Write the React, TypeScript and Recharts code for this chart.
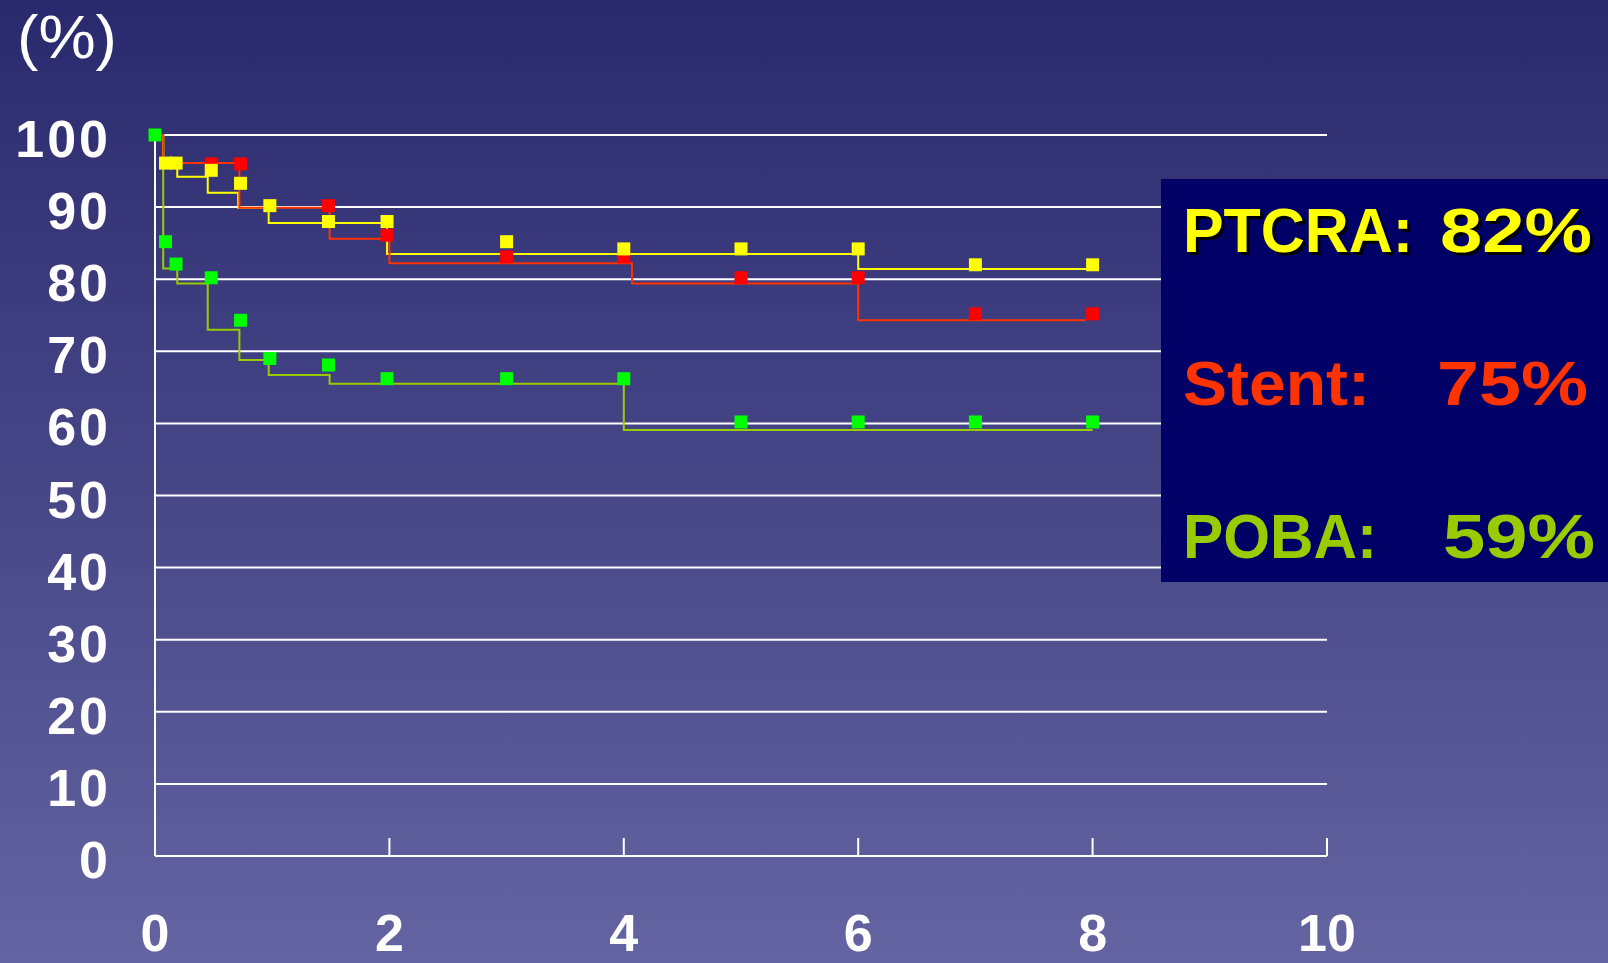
import React from 'react';
import { ComposedChart, Line, Scatter, XAxis, YAxis, CartesianGrid, ReferenceLine } from 'recharts';

// Kaplan-Meier style step curves (time in years, % event-free)
const ptcraCurve = [
  { t: 0, v: 100 }, { t: 0.07, v: 96.1 }, { t: 0.19, v: 94.2 }, { t: 0.45, v: 92.0 },
  { t: 0.71, v: 89.9 }, { t: 0.97, v: 87.8 }, { t: 1.98, v: 83.5 }, { t: 6.0, v: 81.4 },
  { t: 7.95, v: 81.4 },
];
const stentCurve = [
  { t: 0, v: 100 }, { t: 0.07, v: 96.1 }, { t: 0.72, v: 89.9 }, { t: 1.49, v: 85.6 },
  { t: 2.0, v: 82.2 }, { t: 4.07, v: 79.4 }, { t: 6.0, v: 74.3 }, { t: 7.94, v: 74.3 },
];
const pobaCurve = [
  { t: 0, v: 100 }, { t: 0.07, v: 81.5 }, { t: 0.19, v: 79.4 }, { t: 0.45, v: 73.0 },
  { t: 0.72, v: 68.8 }, { t: 0.97, v: 66.7 }, { t: 1.49, v: 65.5 }, { t: 4.0, v: 59.1 },
  { t: 8.0, v: 59.1 },
];

// square markers
const ptcraPoints = [
  { t: 0.09, v: 96.1 }, { t: 0.18, v: 96.1 }, { t: 0.48, v: 95.1 }, { t: 0.73, v: 93.3 },
  { t: 0.98, v: 90.2 }, { t: 1.48, v: 88.0 }, { t: 1.98, v: 88.0 }, { t: 3, v: 85.2 },
  { t: 4, v: 84.2 }, { t: 5, v: 84.2 }, { t: 6, v: 84.2 }, { t: 7, v: 82.0 }, { t: 8, v: 82.0 },
];
const stentPoints = [
  { t: 0.48, v: 96.0 }, { t: 0.73, v: 96.0 }, { t: 1.48, v: 90.2 }, { t: 1.98, v: 86.1 },
  { t: 3, v: 83.1 }, { t: 4, v: 83.1 }, { t: 5, v: 80.2 }, { t: 6, v: 80.2 },
  { t: 7, v: 75.2 }, { t: 8, v: 75.2 },
];
const pobaPoints = [
  { t: 0, v: 100 }, { t: 0.09, v: 85.2 }, { t: 0.18, v: 82.1 }, { t: 0.48, v: 80.2 },
  { t: 0.73, v: 74.3 }, { t: 0.98, v: 69.0 }, { t: 1.48, v: 68.1 }, { t: 1.98, v: 66.2 },
  { t: 3, v: 66.2 }, { t: 4, v: 66.2 }, { t: 5, v: 60.2 }, { t: 6, v: 60.2 },
  { t: 7, v: 60.2 }, { t: 8, v: 60.2 },
];

const xTicks = [0, 2, 4, 6, 8, 10];
const yTicks = [0, 10, 20, 30, 40, 50, 60, 70, 80, 90, 100];
const xTickMarks = [2, 4, 6, 8, 10];

const FONT = '"Liberation Sans", Arial, sans-serif';

const square = (color: string) => (p: any) => (
  <rect x={p.cx - 6.5} y={p.cy - 6.5} width={13} height={13} fill={color} />
);

const YTick = (props: any) => {
  const { x, y, payload } = props;
  return (
    <text x={x + 2} y={y + 22} textAnchor="end" fill="#fff" fontSize={52} fontWeight="bold"
      fontFamily={FONT} letterSpacing={3}>
      {payload.value}
    </text>
  );
};

const XTick = (props: any) => {
  const { x, y, payload } = props;
  return (
    <text x={x} y={y + 95} textAnchor="middle" fill="#fff" fontSize={52} fontWeight="bold"
      fontFamily={FONT}>
      {payload.value}
    </text>
  );
};

const App: React.FC = () => {
  return (
    <div style={{
      position: 'absolute', left: 0, top: 0, width: 1608, height: 963, overflow: 'hidden',
      background: 'linear-gradient(#29296d, #6464a2)',
    }}>
      <ComposedChart width={1608} height={963} margin={{ top: 135, right: 281, bottom: 0, left: 0 }}>
        <CartesianGrid horizontal vertical={false} stroke="#ffffff" strokeWidth={2} />
        <XAxis type="number" dataKey="t" domain={[0, 10]} ticks={xTicks} height={107}
          axisLine={{ stroke: '#fff', strokeWidth: 2 }} tickLine={false} tickSize={0} tickMargin={0}
          tick={<XTick />} interval={0} />
        <YAxis type="number" dataKey="v" domain={[0, 100]} ticks={yTicks} width={155}
          axisLine={{ stroke: '#fff', strokeWidth: 2 }} tickLine={false} tickSize={0} tickMargin={46}
          tick={<YTick />} interval={0} />
        {xTickMarks.map((t) => (
          <ReferenceLine key={t} segment={[{ x: t, y: 0 }, { x: t, y: 2.5 }]} stroke="#fff" strokeWidth={2} />
        ))}
        <Scatter data={stentPoints} dataKey="v" shape={square('#ff0000')} isAnimationActive={false} />
        <Scatter data={ptcraPoints} dataKey="v" shape={square('#ffff00')} isAnimationActive={false} />
        <Scatter data={pobaPoints} dataKey="v" shape={square('#00ff00')} isAnimationActive={false} />
        <Line data={pobaCurve} dataKey="v" type="stepAfter" stroke="#99cc00" strokeWidth={2}
          dot={false} activeDot={false} isAnimationActive={false} />
        <Line data={ptcraCurve} dataKey="v" type="stepAfter" stroke="#ffff00" strokeWidth={2}
          dot={false} activeDot={false} isAnimationActive={false} />
        <Line data={stentCurve} dataKey="v" type="stepAfter" stroke="#ff3300" strokeWidth={2}
          dot={false} activeDot={false} isAnimationActive={false} />
      </ComposedChart>

      <svg style={{ position: 'absolute', left: 0, top: 0 }} width={200} height={90}>
        <text x={17} y={58} fill="#fff" fontSize={62} fontFamily={FONT} textLength={100}
          lengthAdjust="spacingAndGlyphs">(%)</text>
      </svg>

      <svg style={{ position: 'absolute', left: 1161, top: 179 }} width={447} height={403}>
        <rect x={0} y={0} width={447} height={403} fill="#000066" />
        <g fontFamily={FONT} fontWeight="bold" fontSize={63}>
          <text x={25} y={75.7} fill="#000" textLength={230} lengthAdjust="spacingAndGlyphs">PTCRA:</text>
          <text x={282} y={75.7} fill="#000" textLength={152} lengthAdjust="spacingAndGlyphs">82%</text>
          <text x={22} y={72.7} fill="#ffff00" textLength={230} lengthAdjust="spacingAndGlyphs">PTCRA:</text>
          <text x={279} y={72.7} fill="#ffff00" textLength={152} lengthAdjust="spacingAndGlyphs">82%</text>
          <text x={22} y={226} fill="#ff3300" textLength={187} lengthAdjust="spacingAndGlyphs">Stent:</text>
          <text x={276} y={226} fill="#ff3300" textLength={151} lengthAdjust="spacingAndGlyphs">75%</text>
          <text x={22} y={379.3} fill="#99cc00" textLength={194} lengthAdjust="spacingAndGlyphs">POBA:</text>
          <text x={282} y={379.3} fill="#99cc00" textLength={152} lengthAdjust="spacingAndGlyphs">59%</text>
        </g>
      </svg>
    </div>
  );
};

export default App;
